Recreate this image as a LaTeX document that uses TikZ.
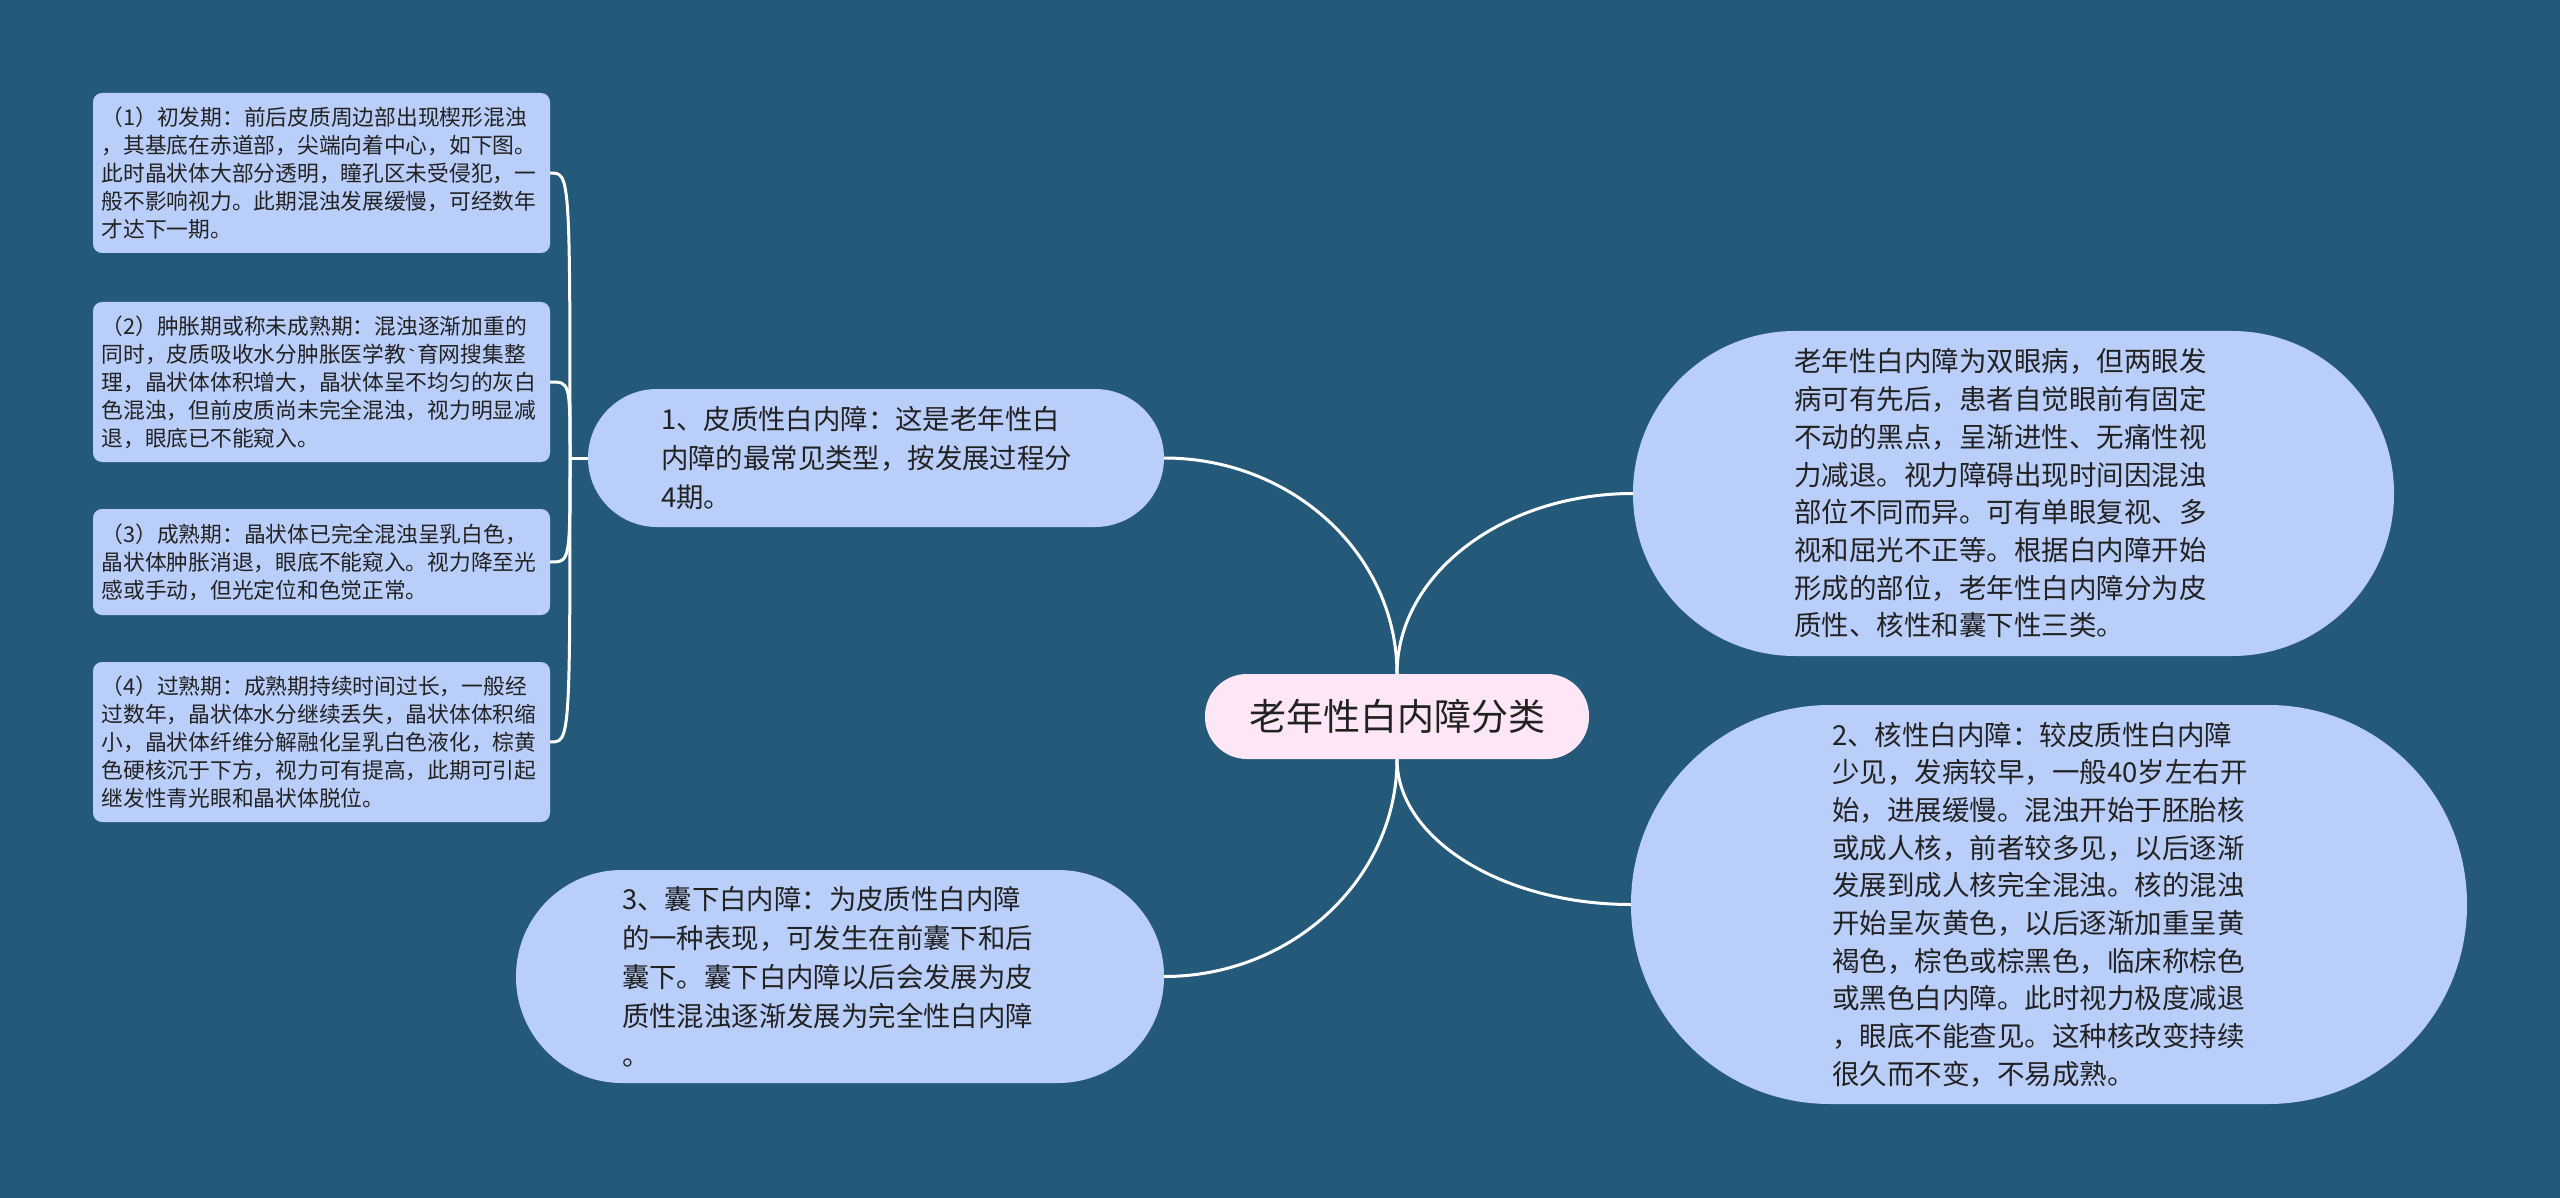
\documentclass[tikz,border=0pt]{standalone}
\usepackage{fontspec}
\setmainfont{Noto Sans CJK SC}
\definecolor{bgc}{RGB}{37,89,122}
\definecolor{nodec}{RGB}{186,206,250}
\definecolor{rootc}{RGB}{253,231,246}
\definecolor{txtc}{RGB}{34,34,34}
\begin{document}
\begin{tikzpicture}[x=1pt,y=-1pt,
  conn/.style={draw=white, line width=3pt},
  leafbox/.style={fill=nodec, rounded corners=9pt, minimum width=457pt, inner sep=0pt,
    text width=440pt, align=left, text=txtc, font=\fontsize{21.75pt}{28pt}\selectfont},
  bignode/.style={fill=nodec, inner sep=0pt, text width=436pt, align=left, text=txtc,
    font=\fontsize{27.5pt}{37.7pt}\selectfont},
  rootnode/.style={fill=rootc, inner sep=0pt, minimum width=384pt, minimum height=85pt,
    rounded corners=42pt, text=txtc, font=\fontsize{37pt}{44pt}\selectfont}]
\fill[bgc] (0,0) rectangle (2560,1198);
\useasboundingbox (0,0) rectangle (2560,1198);

\node[rootnode] (ctr) at (1397,716.5) {老年性白内障分类};

\node[bignode, minimum width=576pt, minimum height=138pt, rounded corners=69pt,
  text width=430pt, font=\fontsize{27.4pt}{39pt}\selectfont] (n1) at (876,458)
  {1、皮质性白内障：这是老年性白\\内障的最常见类型，按发展过程分\\4期。};

\node[bignode, minimum width=648pt, minimum height=213pt, rounded corners=106pt,
  font=\fontsize{27.4pt}{39pt}\selectfont] (n3) at (840,976.5)
  {3、囊下白内障：为皮质性白内障\\的一种表现，可发生在前囊下和后\\囊下。囊下白内障以后会发展为皮\\质性混浊逐渐发展为完全性白内障\\。};

\node[bignode, minimum width=761pt, minimum height=325pt, rounded corners=162pt,
  text width=439pt] (rt) at (2013.5,493.5)
  {老年性白内障为双眼病，但两眼发\\病可有先后，患者自觉眼前有固定\\不动的黑点，呈渐进性、无痛性视\\力减退。视力障碍出现时间因混浊\\部位不同而异。可有单眼复视、多\\视和屈光不正等。根据白内障开始\\形成的部位，老年性白内障分为皮\\质性、核性和囊下性三类。};

\node[bignode, minimum width=836pt, minimum height=399pt, rounded corners=199pt,
  text width=434pt] (rb) at (2049,904.5)
  {2、核性白内障：较皮质性白内障\\少见，发病较早，一般40岁左右开\\始，进展缓慢。混浊开始于胚胎核\\或成人核，前者较多见，以后逐渐\\发展到成人核完全混浊。核的混浊\\开始呈灰黄色，以后逐渐加重呈黄\\褐色，棕色或棕黑色，临床称棕色\\或黑色白内障。此时视力极度减退\\，眼底不能查见。这种核改变持续\\很久而不变，不易成熟。};

\node[leafbox, minimum height=160pt] (b1) at (321.5,173)
  {（1）初发期：前后皮质周边部出现楔形混浊\\，其基底在赤道部，尖端向着中心，如下图。\\此时晶状体大部分透明，瞳孔区未受侵犯，一\\般不影响视力。此期混浊发展缓慢，可经数年\\才达下一期。};
\node[leafbox, minimum height=160pt] (b2) at (321.5,382)
  {（2）肿胀期或称未成熟期：混浊逐渐加重的\\同时，皮质吸收水分肿胀医学教{\ttfamily\symbol{96}}育网搜集整\\理，晶状体体积增大，晶状体呈不均匀的灰白\\色混浊，但前皮质尚未完全混浊，视力明显减\\退，眼底已不能窥入。};
\node[leafbox, minimum height=106pt] (b3) at (321.5,562)
  {（3）成熟期：晶状体已完全混浊呈乳白色，\\晶状体肿胀消退，眼底不能窥入。视力降至光\\感或手动，但光定位和色觉正常。};
\node[leafbox, minimum height=160pt] (b4) at (321.5,742)
  {（4）过熟期：成熟期持续时间过长，一般经\\过数年，晶状体水分继续丢失，晶状体体积缩\\小，晶状体纤维分解融化呈乳白色液化，棕黄\\色硬核沉于下方，视力可有提高，此期可引起\\继发性青光眼和晶状体脱位。};

% connectors from root
\draw[conn] (n1.east) .. controls (1293,458) and (1397,555) .. (ctr.north);
\draw[conn] (ctr.north) .. controls (1397,574) and (1503,493.5) .. (rt.west);
\draw[conn] (ctr.south) .. controls (1397,839) and (1503,904.5) .. (rb.west);
\draw[conn] (ctr.south) .. controls (1397,879) and (1292,976.5) .. (n3.east);

% bracket to leaf boxes
\coordinate (jn) at (570,458);
\draw[conn] (n1.west) -- (jn);
\draw[conn] (b1.east) .. controls (570,173) .. (jn);
\draw[conn] (b2.east) .. controls (570,382) .. (jn);
\draw[conn] (b3.east) .. controls (570,562) .. (jn);
\draw[conn] (b4.east) .. controls (570,742) .. (jn);
\end{tikzpicture}
\end{document}
